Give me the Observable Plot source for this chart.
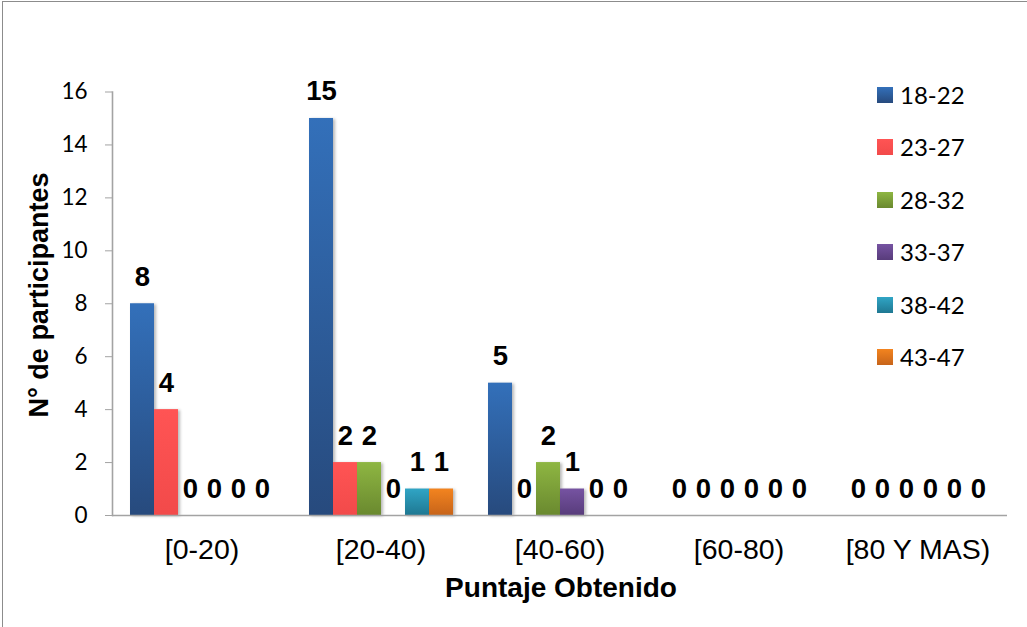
<!DOCTYPE html>
<html>
<head>
<meta charset="utf-8">
<script src="https://cdn.jsdelivr.net/npm/d3@7"></script>
<script src="https://cdn.jsdelivr.net/npm/@observablehq/plot@0.6"></script>
<style>
  html, body { margin: 0; padding: 0; background: #fff; }
  #chart { position: relative; width: 1027px; height: 627px; overflow: hidden; background: #fff; }
  #border { position: absolute; left: 2px; top: 1px; right: -10px; bottom: -10px;
            border-left: 1.5px solid #8c8c8c; border-top: 1.5px solid #8c8c8c; }
  #plot { position: absolute; left: 0; top: 0; }
  #plot g[aria-label="bar"] rect { filter: drop-shadow(2px 1px 1.5px rgba(0,0,0,0.28)); }
  .axis-title { position: absolute; white-space: nowrap; line-height: 1;
                font-family: "Liberation Sans", Arial, sans-serif; font-weight: bold; color: #000; }
  #x-title { font-size: 28px; left: 561px; top: 574px; transform: translateX(-50%); }
  #y-title { font-size: 27px; left: 38.6px; top: 295px; transform: translate(-50%, -50%) rotate(-90deg); }
  #legend { position: absolute; left: 877px; top: 83px; }
  .legend-row { display: flex; align-items: center; height: 24px; margin-bottom: 28.4px; }
  .legend-swatch { width: 16px; height: 16px; margin-right: 7px; }
  .legend-label { font-family: Lato, "Noto Sans", sans-serif; font-size: 24px; line-height: 1; color: #000; }
</style>
</head>
<body>
<div id="chart">
  <div id="plot"></div>
  <div id="border"></div>
  <div id="y-title" class="axis-title">N° de participantes</div>
  <div id="x-title" class="axis-title">Puntaje Obtenido</div>
  <div id="legend"></div>
</div>
<script>
// Score ranges (facets) and age groups (bars within each facet)
const categories = ["[0-20)", "[20-40)", "[40-60)", "[60-80)", "[80 Y MAS)"];
const ageGroups = ["18-22", "23-27", "28-32", "33-37", "38-42", "43-47"];

// Participants per score range, one array per age group
const n18_22 = [8, 15, 5, 0, 0];
const n23_27 = [4, 2, 0, 0, 0];
const n28_32 = [0, 2, 2, 0, 0];
const n33_37 = [0, 0, 1, 0, 0];
const n38_42 = [0, 1, 0, 0, 0];
const n43_47 = [0, 1, 0, 0, 0];

const yTicks = [0, 2, 4, 6, 8, 10, 12, 14, 16];

// Top / bottom gradient colours for each age group
const gradientStops = [
  ["#3370ba", "#274a7d"],
  ["#ff5454", "#f24a4a"],
  ["#8eb642", "#6a892f"],
  ["#7653a2", "#583c7b"],
  ["#30a5c5", "#1f7892"],
  ["#f3841f", "#c7641a"]
];

const seriesValues = [n18_22, n23_27, n28_32, n33_37, n38_42, n43_47];

const rows = ageGroups.flatMap((group, i) =>
  categories.map((category, j) => ({category, group, count: seriesValues[i][j]}))
);

const textFont = "'Liberation Sans', Arial, sans-serif";

const svg = Plot.plot({
  width: 1027,
  height: 627,
  marginLeft: 110,
  marginRight: 19,
  marginTop: 91.5,
  marginBottom: 112,
  style: {fontFamily: textFont, background: "transparent", overflow: "visible"},
  fx: {domain: categories, padding: 0},
  x: {domain: ageGroups, paddingInner: 0, paddingOuter: 0.72, axis: null},
  y: {domain: [0, 16]},
  marks: [
    // one bar mark per age group so each can carry its own gradient
    ...ageGroups.map((g, i) =>
      Plot.barY(rows.filter(d => d.group === g && d.count > 0), {
        fx: "category", x: "group", y: "count",
        fill: `url(#bar-grad-${i})`
      })
    ),
    // value labels above every bar (zeros included)
    Plot.text(rows, {
      fx: "category", x: "group", y: "count", text: d => String(d.count),
      lineAnchor: "bottom", dy: -18,
      fontSize: 27.5, fontWeight: "bold", fontFamily: textFont, fill: "#000"
    }),
    Plot.ruleY([0], {stroke: "#a3a3a3", strokeWidth: 1.6}),
    Plot.frame({anchor: "left", facet: "super", stroke: "#a3a3a3", strokeWidth: 1.6}),
    Plot.axisY({
      ticks: yTicks, tickSize: 7, tickPadding: 18, label: null,
      stroke: "#a3a3a3", fill: "#000",
      fontSize: 22.5, fontFamily: "Lato, 'Noto Sans', sans-serif"
    }),
    Plot.axisFx({
      anchor: "bottom", tickSize: 0, tickPadding: 23, label: null,
      fontSize: 28.5, fontFamily: textFont, fill: "#000"
    })
  ]
});

// vertical gradients for the bars
const ns = "http://www.w3.org/2000/svg";
const defs = document.createElementNS(ns, "defs");
gradientStops.forEach(([top, bottom], i) => {
  const lg = document.createElementNS(ns, "linearGradient");
  lg.setAttribute("id", `bar-grad-${i}`);
  lg.setAttribute("x1", "0"); lg.setAttribute("y1", "0");
  lg.setAttribute("x2", "0"); lg.setAttribute("y2", "1");
  [[0, top], [1, bottom]].forEach(([offset, color]) => {
    const stop = document.createElementNS(ns, "stop");
    stop.setAttribute("offset", offset);
    stop.setAttribute("stop-color", color);
    lg.appendChild(stop);
  });
  defs.appendChild(lg);
});
svg.insertBefore(defs, svg.firstChild);
document.getElementById("plot").appendChild(svg);

// legend
const legend = document.getElementById("legend");
ageGroups.forEach((g, i) => {
  const row = document.createElement("div");
  row.className = "legend-row";
  const sw = document.createElement("div");
  sw.className = "legend-swatch";
  sw.style.background = `linear-gradient(${gradientStops[i][0]}, ${gradientStops[i][1]})`;
  const label = document.createElement("span");
  label.className = "legend-label";
  label.textContent = g;
  row.appendChild(sw);
  row.appendChild(label);
  legend.appendChild(row);
});
</script>
</body>
</html>
